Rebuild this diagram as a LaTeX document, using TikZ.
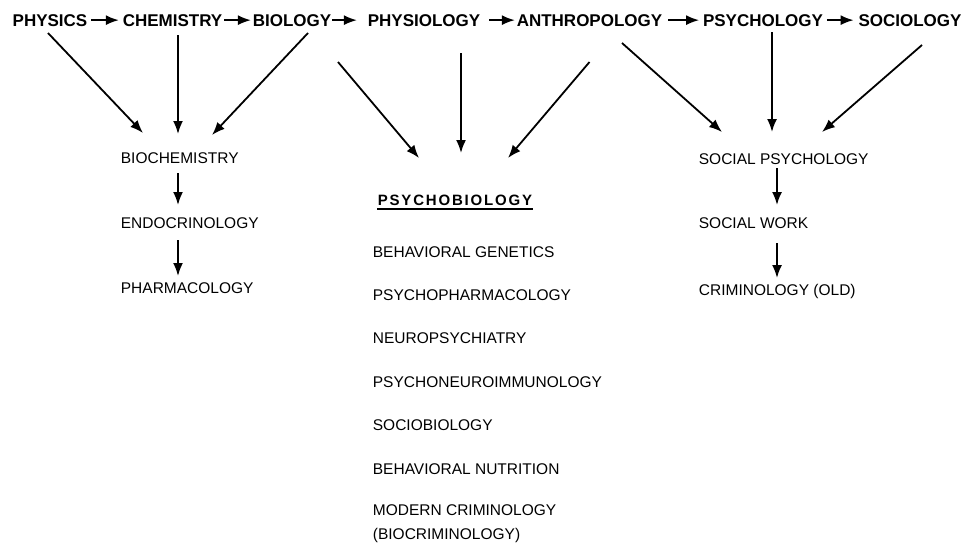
\documentclass[tikz,border=0pt]{standalone}
\usepackage{fontspec}
\setmainfont{Liberation Sans}
\newfontfamily\spacedfont[LetterSpace=12]{Liberation Sans}
\usetikzlibrary{arrows.meta}

\begin{document}
\begin{tikzpicture}[x=1pt,y=-1pt,>={Latex[length=13pt,width=10pt]},line width=1.8pt,
	field/.style={anchor=base,inner sep=0pt,font=\bfseries\fontsize{17}{20}\selectfont},
	subject/.style={anchor=base west,inner sep=0pt,font=\fontsize{15.5}{24}\selectfont}]
	\useasboundingbox (0,0) rectangle (962,544);
	% the basic sciences
	\node [field] (n0) at (50,26) {PHYSICS};
	\node [field] (n1) at (172.5,26) {CHEMISTRY};
	\node [field] (n2) at (292,26) {BIOLOGY};
	\node [field] (n3) at (424,26) {PHYSIOLOGY};
	\node [field] (n4) at (589.5,26) {ANTHROPOLOGY};
	\node [field] (n5) at (763,26) {PSYCHOLOGY};
	\node [field] (n6) at (910,26) {SOCIOLOGY};
	\draw [->,shorten <=3pt,shorten >=3pt] (n0) -- (n1);
	\draw [->,shorten <=1pt,shorten >=1pt] (n1) -- (n2);
	\draw [->,shorten <=0pt,shorten >=10pt] (n2) -- (n3);
	\draw [->,shorten <=8pt,shorten >=1pt] (n3) -- (n4);
	\draw [->,shorten <=5pt,shorten >=3pt] (n4) -- (n5);
	\draw [->,shorten <=3pt,shorten >=4pt] (n5) -- (n6);
	% left branch
	\node [subject] (n7) at (120,163.5) {BIOCHEMISTRY};
	\node [subject] (n8) at (120,228.5) {ENDOCRINOLOGY};
	\node [subject] (n9) at (120,293.5) {PHARMACOLOGY};
	\draw [->] ([xshift=-2pt,yshift=-7pt]n0.base) -- ([xshift=23pt,yshift=30.5pt]n7.base west);
	\draw [->] ([xshift=5.5pt,yshift=-9pt]n1.base) -- ([xshift=58pt,yshift=29.5pt]n7.base west);
	\draw [->] ([xshift=16pt,yshift=-7pt]n2.base) -- ([xshift=92pt,yshift=28.5pt]n7.base west);
	\draw [->] ([xshift=58pt,yshift=-9.5pt]n7.base west) -- ([xshift=58pt,yshift=23.5pt]n8.base west);
	\draw [->] ([xshift=58pt,yshift=-11.5pt]n8.base west) -- ([xshift=58pt,yshift=17.5pt]n9.base west);
	% right branch
	\node [subject] (n10) at (698,164.5) {SOCIAL PSYCHOLOGY};
	\node [subject] (n11) at (698,228.5) {SOCIAL WORK};
	\node [subject] (n12) at (698,295.5) {CRIMINOLOGY (OLD)};
	\draw [->] ([xshift=32.5pt,yshift=-17pt]n4.base) -- ([xshift=24pt,yshift=32.5pt]n10.base west);
	\draw [->] ([xshift=9pt,yshift=-6pt]n5.base) -- ([xshift=74pt,yshift=32.5pt]n10.base west);
	\draw [->] ([xshift=12pt,yshift=-19pt]n6.base) -- ([xshift=124pt,yshift=32.5pt]n10.base west);
	\draw [->] ([xshift=79pt,yshift=-3.5pt]n10.base west) -- ([xshift=79pt,yshift=23.5pt]n11.base west);
	\draw [->] ([xshift=79pt,yshift=-14.5pt]n11.base west) -- ([xshift=79pt,yshift=17.5pt]n12.base west);
	% psychobiology
	\node [subject,font=\spacedfont\bfseries\fontsize{15}{17}\selectfont] (n13) at (377,205) {PSYCHOBIOLOGY};
	\draw [line width=1.5pt] ([yshift=-4pt]n13.base west) -- ([yshift=-4pt]n13.base east);
	\draw [->] ([xshift=-86pt,yshift=-36pt]n3.base) -- ([xshift=42pt,yshift=47pt]n13.base west);
	\draw [->] ([xshift=37pt,yshift=-27pt]n3.base) -- ([xshift=84pt,yshift=52pt]n13.base west);
	\draw [->] ([xshift=0pt,yshift=-36pt]n4.base) -- ([xshift=131pt,yshift=47pt]n13.base west);
	\node [subject] (n14) at (372,257.5) {BEHAVIORAL GENETICS};
	\node [subject] (n15) at (372,300.5) {PSYCHOPHARMACOLOGY};
	\node [subject] (n16) at (372,343.5) {NEUROPSYCHIATRY};
	\node [subject] (n17) at (372,387.5) {PSYCHONEUROIMMUNOLOGY};
	\node [subject] (n18) at (372,430.5) {SOCIOBIOLOGY};
	\node [subject] (n19) at (372,474.5) {BEHAVIORAL NUTRITION};
	\node [subject,anchor=north west,align=left] (n20) at (372,504) {MODERN CRIMINOLOGY\\(BIOCRIMINOLOGY)};
\end{tikzpicture}
\end{document}
